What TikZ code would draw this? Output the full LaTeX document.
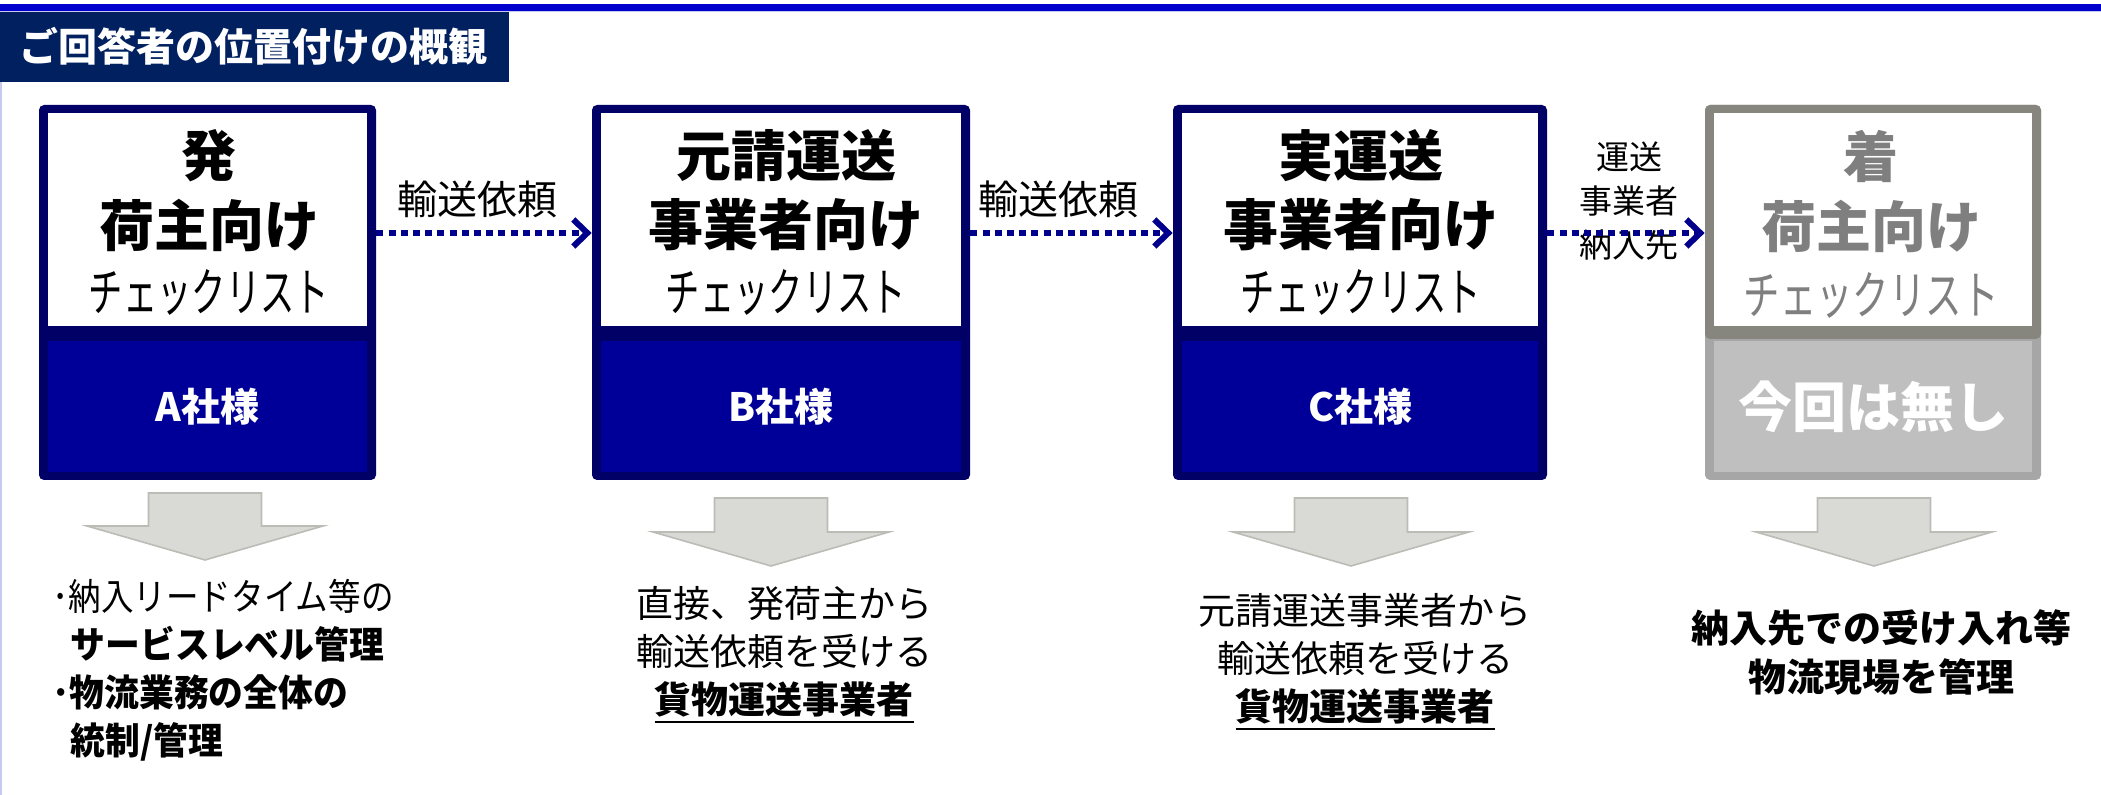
\documentclass[tikz,border=0pt]{standalone}
\usepackage{fontspec}
\usepackage{graphicx}
\setmainfont{Noto Sans CJK JP}
\usetikzlibrary{arrows.meta,calc}
\definecolor{navy}{HTML}{000066}
\definecolor{boxblue}{HTML}{000099}
\definecolor{titlebg}{HTML}{002060}
\definecolor{topblue}{HTML}{0000CC}
\definecolor{conn}{HTML}{00008C}
\definecolor{gborder}{HTML}{86867E}
\definecolor{gfill}{HTML}{BFBFBF}
\definecolor{gside}{HTML}{A6A6A6}
\definecolor{gtext}{HTML}{7F7F7F}
\definecolor{arrfill}{HTML}{D9D9D5}
\definecolor{arrdraw}{HTML}{BCBCB6}
\definecolor{lav}{HTML}{C8C8F0}
\newcommand{\fsz}[2]{\fontsize{#1}{#2}\selectfont}
\newcommand{\ulbox}[1]{\leavevmode\vtop{\hbox{#1}\kern1.6pt\hrule height 1.4pt}}
\newcommand{\cond}[1]{\scalebox{0.66}[1]{#1}}
\newcommand{\narrow}[2]{\scalebox{#1}[1]{#2}}
\begin{document}
\begin{tikzpicture}[x=0.5pt,y=-0.5pt,
  outerbox/.style={rounded corners=2.5pt, inner sep=0pt, minimum height=187.5pt},
  inwhite/.style={fill=white, inner sep=0pt, minimum height=106.5pt},
  inlow/.style={inner sep=0pt, minimum height=65.5pt, text=white, font={\fsz{19.5pt}{22pt}\bfseries}},
  ttl/.style={inner sep=0pt, font={\fsz{27.5pt}{30pt}\bfseries}},
  chk/.style={inner sep=0pt, font={\fsz{26pt}{28pt}}},
  lbl/.style={inner sep=0pt, font={\fsz{20pt}{22pt}}},
  flow/.style={conn, line width=3.3pt, dash pattern=on 3.5pt off 2.6pt,
     -{Straight Barb[length=7pt, width=13.5pt, line width=3pt]}},
  down/.style={fill=arrfill, draw=arrdraw, line width=0.8pt},
  desc/.style={inner sep=0pt, font={\fsz{18.5pt}{24pt}}, align=center}
]
\useasboundingbox (0,0) rectangle (2101,795);
\fill[white] (0,0) rectangle (2101,795);
% top rule and left line
\fill[topblue] (0,4) rectangle (2101,11);
\fill[lav] (0,11) rectangle (2101,12);
\fill[lav] (0,82) rectangle (2,795);
% title bar
\fill[titlebg] (0,12) rectangle (509,82);
\node[inner sep=0pt, text=white, font={\fsz{19.5pt}{22pt}\bfseries}] (title) at (253.5,46.5) {ご回答者の位置付けの概観};

% ---- Box A ----
\node[outerbox, fill=navy, minimum width=168.5pt] (A) at (207.5,292.5) {};
\node[inwhite, minimum width=159.5pt] (Aw) at (207.5,219.5) {};
\node[inlow, fill=boxblue, minimum width=159.5pt] (Ab) at (207.5,406.5) {A社様};
\node[ttl] (A1) at (209,156) {発};
\node[ttl] (A2) at (209,225) {荷主向け};
\node[chk] (A3) at (209,292) {\cond{チェックリスト}};

% ---- Box B ----
\node[outerbox, fill=navy, minimum width=189pt] (B) at (781,292.5) {};
\node[inwhite, minimum width=180pt] (Bw) at (781,219.5) {};
\node[inlow, fill=boxblue, minimum width=180pt] (Bb) at (781,406.5) {B社様};
\node[ttl] (B1) at (786,156) {元請運送};
\node[ttl] (B2) at (786,225) {事業者向け};
\node[chk] (B3) at (786,292) {\cond{チェックリスト}};

% ---- Box C ----
\node[outerbox, fill=navy, minimum width=187pt] (C) at (1360,292.5) {};
\node[inwhite, minimum width=178pt] (Cw) at (1360,219.5) {};
\node[inlow, fill=boxblue, minimum width=178pt] (Cb) at (1360,406.5) {C社様};
\node[ttl] (C1) at (1361,156) {実運送};
\node[ttl] (C2) at (1361,225) {事業者向け};
\node[chk] (C3) at (1361,292) {\cond{チェックリスト}};

% ---- Box D ----
\node[outerbox, fill=gside, minimum width=168pt] (D) at (1873,292.5) {};
\fill[gborder, rounded corners=2.5pt] (1705,105) rectangle (2041,339);
\node[inwhite, minimum width=159pt] (Dw) at (1873,219.5) {};
\node[inlow, fill=gfill, minimum width=159pt, font={\fsz{27pt}{30pt}\bfseries}] (Db) at (1873,406.5) {今回は無し};
\node[ttl, text=gtext] (D1) at (1871,156) {着};
\node[ttl, text=gtext] (D2) at (1871,226) {荷主向け};
\node[chk, text=gtext] (D3) at (1871,295) {\scalebox{0.7}[1]{チェックリスト}};

% ---- connectors ----
\node[lbl] (L1) at (477.5,199.5) {輸送依頼};
\node[lbl] (L2) at (1058,199.5) {輸送依頼};
\node[inner sep=0pt, font={\fsz{16.5pt}{22pt}}, align=center] (L3) at (1629,201) {運送\\事業者\\納入先};
\draw[flow] ($(A.east)+(0,-59.5)$) -- ($(B.west)+(0,-59.5)$);
\draw[flow] ($(B.east)+(0,-59.5)$) -- ($(C.west)+(0,-59.5)$);
\draw[flow] ($(C.east)+(0,-59.5)$) -- ($(D.west)+(0,-59.5)$);

% ---- down arrows ----
\foreach \cx/\ty/\sy/\tip in {205/493/526/560, 771/498/532/566, 1351/498/532/566, 1874/498/532/566}{
  \draw[down] (\cx-56.5,\ty) -- (\cx+56.5,\ty) -- (\cx+56.5,\sy) -- (\cx+118,\sy)
     -- (\cx,\tip) -- (\cx-118,\sy) -- (\cx-56.5,\sy) -- cycle;
}

% ---- descriptions ----
\node[inner sep=0pt, font={\fsz{18.5pt}{24pt}}, align=left, anchor=north west] (TA) at (52,579)
  {\narrow{0.88}{･納入リードタイム等の}\\
   \phantom{･}\narrow{0.94}{\textbf{サービスレベル管理}}\\
   \narrow{0.94}{\textbf{･物流業務の全体の}}\\
   \phantom{･}\narrow{0.94}{\textbf{統制/管理}}};
\node[desc] (TB) at (784,655) {直接、発荷主から\\輸送依頼を受ける\\\textbf{\ulbox{貨物運送事業者}}};
\node[desc] (TC) at (1365,662) {元請運送事業者から\\輸送依頼を受ける\\\textbf{\ulbox{貨物運送事業者}}};
\node[desc, font={\fsz{19pt}{24.5pt}\bfseries}] (TD) at (1881,653) {納入先での受け入れ等\\物流現場を管理};
\end{tikzpicture}
\end{document}
